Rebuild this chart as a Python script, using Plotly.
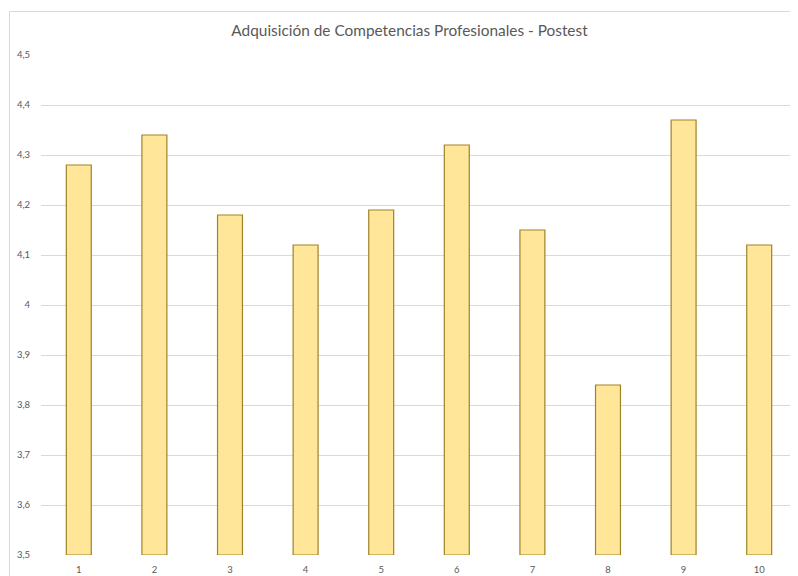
import plotly.graph_objects as go

categories = ["1", "2", "3", "4", "5", "6", "7", "8", "9", "10"]
values = [4.28, 4.34, 4.18, 4.12, 4.19, 4.32, 4.15, 3.84, 4.37, 4.12]
y_ticks = [3.5, 3.6, 3.7, 3.8, 3.9, 4.0, 4.1, 4.2, 4.3, 4.4, 4.5]
y_tick_labels = ["3,5", "3,6", "3,7", "3,8", "3,9", "4", "4,1", "4,2", "4,3", "4,4", "4,5"]
title = "Adquisición de Competencias Profesionales - Postest"
y_min, y_max = 3.5, 4.5

fig = go.Figure()
fig.add_trace(go.Bar(
    x=categories,
    y=[v - y_min for v in values],
    base=y_min,
    width=0.33,
    marker=dict(color="#FFE699", line=dict(color="#A08326", width=1.2)),
    hovertext=[str(v) for v in values],
))

# page has an 8px body margin, so the figure is offset by 8px
OFF = 8
W, H = 798 - OFF, 576 - OFF
ml, mr, mt, mb = 41 - OFF, 1, 55 - OFF, 21
pw, ph = W - ml - mr, H - mt - mb

fig.update_layout(
    width=W, height=H,
    margin=dict(l=ml, r=mr, t=mt, b=mb, pad=0),
    paper_bgcolor="white",
    plot_bgcolor="white",
    showlegend=False,
    font=dict(family="Lato, Open Sans, sans-serif", color="#595959"),
    title=dict(
        text=title,
        x=(409.5 - OFF) / W, xanchor="center", xref="container",
        y=1 - (31 - OFF) / H, yanchor="middle", yref="container",
        font=dict(size=15.4, color="#595959"),
    ),
    xaxis=dict(
        type="category",
        showgrid=False,
        showline=False,
        ticks="outside", ticklen=6, tickcolor="rgba(0,0,0,0)",
        tickfont=dict(size=9.5, color="#595959"),
        fixedrange=True,
    ),
    yaxis=dict(
        range=[y_min, y_max],
        tickvals=y_ticks,
        ticktext=y_tick_labels,
        showgrid=True, gridcolor="#D9D9D9", gridwidth=1,
        zeroline=False,
        showline=False,
        ticks="outside", ticklen=8, tickcolor="rgba(0,0,0,0)",
        tickfont=dict(size=9.5, color="#595959"),
    ),
    bargap=0.67,
    shapes=[
        dict(
            type="rect", xref="paper", yref="paper",
            x0=(9.5 - OFF - ml) / pw, x1=(W + 20 - ml) / pw,
            y0=-(mb + 20) / ph, y1=1 + (mt - (11.5 - OFF)) / ph,
            line=dict(color="#D9D9D9", width=1),
            fillcolor="rgba(0,0,0,0)",
            layer="below",
        )
    ],
)

fig.write_html("out.html")
